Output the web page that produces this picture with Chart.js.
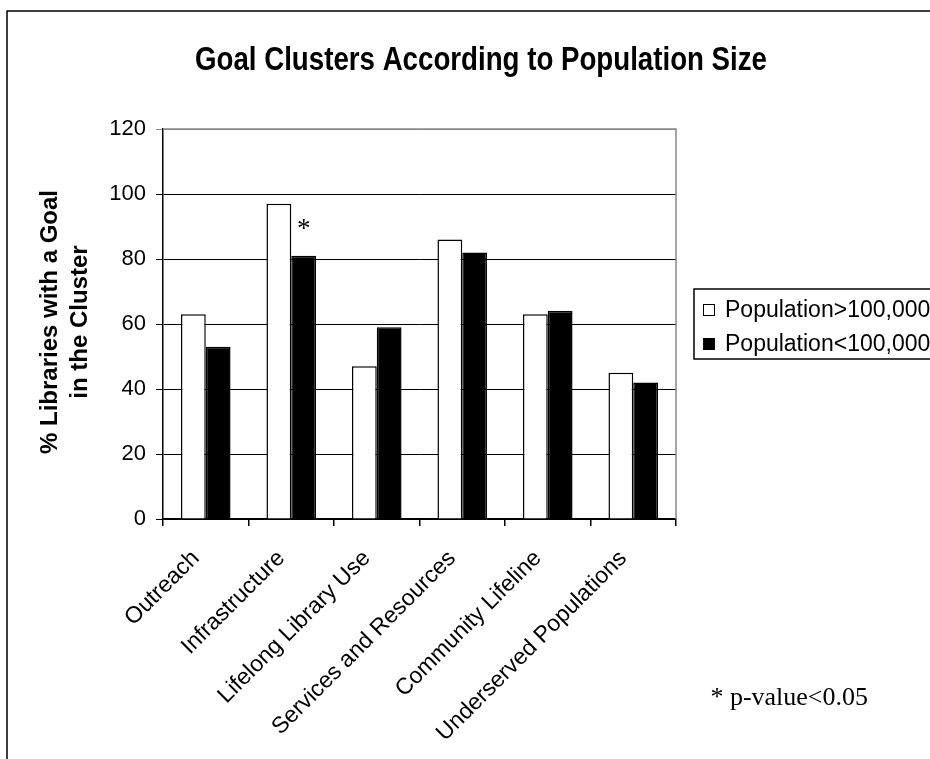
<!DOCTYPE html>
<html>
<head>
<meta charset="utf-8">
<script src="https://cdn.jsdelivr.net/npm/chart.js@4/dist/chart.umd.min.js"></script>
<style>
  html, body { margin: 0; padding: 0; background: #fff; }
  #wrap { width: 930px; height: 759px; }
</style>
</head>
<body>
<div id="wrap"><canvas id="c" width="930" height="759"></canvas></div>
<script>
// Goal cluster categories and the share of libraries per population group
const categories = [
  'Outreach',
  'Infrastructure',
  'Lifelong Library Use',
  'Services and Resources',
  'Community Lifeline',
  'Underserved Populations'
];
const seriesNames = ['Population>100,000', 'Population<100,000'];
const largePop = [63, 97, 47, 86, 63, 45];
const smallPop = [53, 81, 59, 82, 64, 42];
const yTicks = [0, 20, 40, 60, 80, 100, 120];
const significant = [false, true, false, false, false, false];

const chartTitle = 'Goal Clusters According to Population Size';
const yTitle = ['% Libraries with a Goal', 'in the Cluster'];
const footnote = '* p-value<0.05';

const SANS = "'Liberation Sans', Arial, sans-serif";
const NARROW = "'Liberation Sans Narrow', 'Arial Narrow', 'Liberation Sans', Arial, sans-serif";
const SERIF = "'Liberation Serif', 'Times New Roman', serif";

// Frame, title, axis title, legend, markers and footnote
const decor = {
  id: 'decor',
  beforeDatasetsDraw(chart) {
    const { ctx, chartArea: a } = chart;
    ctx.save();
    // plot-area outline (top and right edges are grey)
    ctx.strokeStyle = '#888';
    ctx.lineWidth = 1.5;
    ctx.beginPath();
    ctx.moveTo(a.left, a.top);
    ctx.lineTo(a.right, a.top);
    ctx.lineTo(a.right, a.bottom);
    ctx.stroke();
    ctx.restore();
  },
  afterDraw(chart) {
    const { ctx, chartArea: a } = chart;
    ctx.save();
    // outer frame
    ctx.strokeStyle = '#000';
    ctx.lineWidth = 1.5;
    ctx.beginPath();
    ctx.moveTo(7, 760);
    ctx.lineTo(7, 11);
    ctx.lineTo(931, 11);
    ctx.stroke();

    // title: condensed bold face, fitted to its line width
    ctx.fillStyle = '#000';
    ctx.font = 'bold 33px ' + NARROW;
    ctx.textAlign = 'center';
    ctx.textBaseline = 'alphabetic';
    const tw = ctx.measureText(chartTitle).width;
    const sx = 572 / tw;
    ctx.save();
    ctx.translate(481, 70);
    ctx.scale(sx, 1);
    ctx.fillText(chartTitle, 0, 0);
    ctx.restore();

    // y axis title
    ctx.save();
    ctx.translate(65, 322);
    ctx.rotate(-Math.PI / 2);
    ctx.textBaseline = 'middle';
    ctx.font = 'bold 24px ' + SANS;
    ctx.fillText(yTitle[0], 0, -15);
    ctx.fillText(yTitle[1], 0, 15);
    ctx.restore();

    // significance markers above the smaller-population bars
    const meta = chart.getDatasetMeta(1);
    ctx.font = '27px ' + SERIF;
    ctx.textAlign = 'center';
    ctx.textBaseline = 'middle';
    significant.forEach((s, i) => {
      if (!s) return;
      const bar = meta.data[i];
      ctx.fillText('*', bar.x, bar.y - 26);
    });

    // legend
    const lx = 694, ly = 289, lh = 70;
    ctx.fillStyle = '#fff';
    ctx.fillRect(lx, ly, 260, lh);
    ctx.strokeStyle = '#000';
    ctx.lineWidth = 1.5;
    ctx.strokeRect(lx, ly, 260, lh);
    ctx.font = '23px ' + SANS;
    ctx.textAlign = 'left';
    ctx.textBaseline = 'middle';
    chart.data.datasets.forEach((ds, i) => {
      const cy = ly + 21 + i * 34;
      ctx.fillStyle = ds.backgroundColor;
      ctx.fillRect(lx + 9, cy - 6, 12, 12);
      ctx.strokeStyle = '#000';
      ctx.lineWidth = 1;
      ctx.strokeRect(lx + 9.5, cy - 5.5, 11, 11);
      ctx.fillStyle = '#000';
      ctx.fillText(ds.label, lx + 31, cy + 1);
    });

    // footnote
    ctx.font = '26px ' + SERIF;
    ctx.textAlign = 'right';
    ctx.textBaseline = 'alphabetic';
    ctx.fillText(footnote, 868, 705);
    ctx.restore();
  }
};

new Chart(document.getElementById('c'), {
  type: 'bar',
  data: {
    labels: categories,
    datasets: [
      {
        label: seriesNames[0],
        data: largePop,
        backgroundColor: '#ffffff',
        borderColor: '#000000',
        borderWidth: 1.5,
        borderSkipped: 'start'
      },
      {
        label: seriesNames[1],
        data: smallPop,
        backgroundColor: '#000000',
        borderColor: '#000000',
        borderWidth: 1.5,
        borderSkipped: 'start'
      }
    ]
  },
  options: {
    responsive: false,
    animation: false,
    devicePixelRatio: 1,
    layout: { padding: { top: 129, right: 254, left: 0, bottom: 0 } },
    categoryPercentage: 0.58,
    barPercentage: 1.0,
    plugins: {
      legend: { display: false },
      title: { display: false },
      tooltip: { enabled: false }
    },
    scales: {
      x: {
        offset: true,
        grid: {
          offset: true,
          drawOnChartArea: false,
          drawTicks: true,
          tickLength: 7,
          color: '#000',
          lineWidth: 1.5
        },
        border: { display: true, color: '#000', width: 1.5 },
        ticks: {
          color: '#000',
          font: { family: SANS, size: 23 },
          maxRotation: 45,
          minRotation: 45,
          autoSkip: false,
          padding: 19,
          labelOffset: -10
        },
        afterFit(scale) { scale.height = 240; }
      },
      y: {
        min: 0,
        max: 120,
        afterBuildTicks(scale) { scale.ticks = yTicks.map(v => ({ value: v })); },
        grid: {
          color: (c) => (c.tick && c.tick.value === 120 ? '#888' : '#000'),
          lineWidth: 1,
          drawTicks: true,
          tickLength: 7
        },
        border: { display: true, color: '#000', width: 1.5 },
        ticks: {
          color: '#000',
          font: { family: SANS, size: 22 },
          padding: 10
        },
        afterFit(scale) { scale.width = 163; }
      }
    }
  },
  plugins: [decor]
});
</script>
</body>
</html>
